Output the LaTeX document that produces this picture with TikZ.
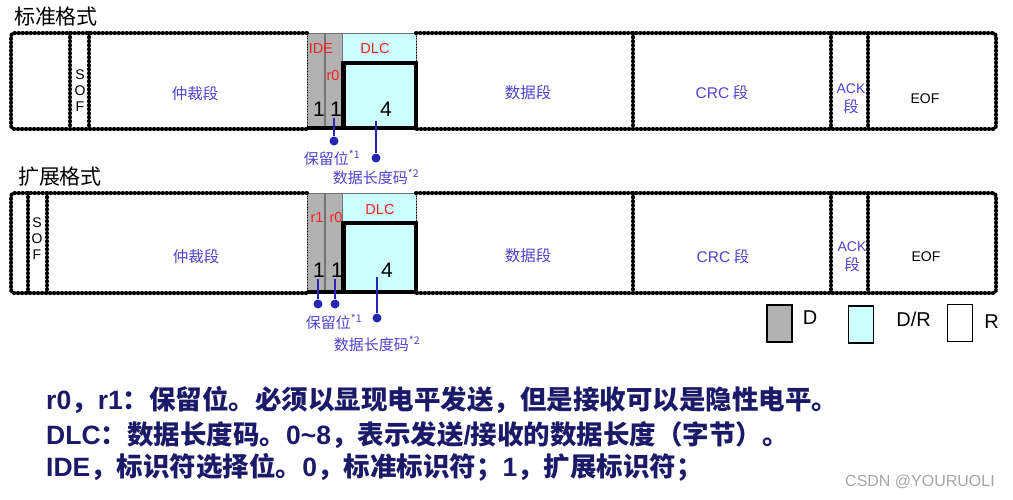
\documentclass[tikz,border=0pt]{standalone}
\usepackage{fontspec}
\setmainfont{Noto Sans CJK SC}
\newfontfamily\latinfont{Liberation Sans}
\usepackage{xcolor}
\usetikzlibrary{positioning}

\definecolor{fieldgray}{RGB}{178,178,178}
\definecolor{dlccyan}{RGB}{204,255,255}
\definecolor{labelblue}{RGB}{78,68,205}
\definecolor{notered}{RGB}{255,30,30}
\definecolor{dotblue}{RGB}{38,38,178}
\definecolor{notenavy}{RGB}{26,26,104}

\begin{document}
\begin{tikzpicture}[
    x=1pt, y=-1pt,
    every node/.style={inner sep=2pt},
    dotline/.style={
      line width=4pt, dash pattern=on 0.5pt off 3.5pt, line cap=round,
      preaction={draw, solid, line width=2pt}
    },
    thinedge/.style={line width=0.7pt, dotted},
    bitcell/.style={fill=fieldgray, draw=gray!90!black, line width=0.5pt},
    dlccell/.style={fill=dlccyan, draw=gray!90!black, line width=0.5pt},
    thickline/.style={line width=4.5pt},
    title/.style={font=\fontsize{21}{24}\selectfont},
    fieldlabel/.style={text=labelblue, font=\fontsize{15.5}{19}\selectfont, align=center},
    soflabel/.style={font=\latinfont\fontsize{14}{16}\selectfont, align=center},
    redlabel/.style={text=notered, font=\latinfont\fontsize{14.5}{16}\selectfont},
    bitnum/.style={font=\latinfont\fontsize{21}{23}\selectfont},
    eoflabel/.style={font=\latinfont\fontsize{14}{15}\selectfont},
    notedot/.style={circle, fill=dotblue, inner sep=0pt, minimum size=9pt},
    noteline/.style={dotblue, line width=1.2pt},
    notetext/.style={text=labelblue, font=\fontsize{15}{17}\selectfont},
    keybox/.style={draw, line width=1.3pt, minimum width=25pt, minimum height=37pt, inner sep=0pt},
    keytext/.style={font=\latinfont\fontsize{20}{22}\selectfont},
    remark/.style={anchor=west, text=notenavy, font=\bfseries\fontsize{26.5}{28}\selectfont},
    watermark/.style={text=gray!70, font=\latinfont\fontsize{16}{18}\selectfont}
  ]
    \useasboundingbox (0,0) rectangle (1013,499);

    % Standard format
    \node[title] (stdtitle) at (56,17) {标准格式};
    \filldraw[bitcell] (307,33) rectangle (324,129);
    \filldraw[bitcell] (325,33) rectangle (342,129);
    \filldraw[dlccell] (342,33) rectangle (416,129);
    \draw[thinedge] (307,33) -- (307,129) (416,33) -- (416,63);
    \draw[dotline, rounded corners=3pt] (307,33) -- (11,33) -- (11,129) -- (307,129)
      (416,33) -- (996,33) -- (996,129) -- (416,129);
    \draw[dotline] (70,33) -- (70,129) (89,33) -- (89,129) (633,33) -- (633,129)
      (831,33) -- (831,129) (868,33) -- (868,129);
    \draw[thickline] (343.5,63) rectangle (416,128);
    \draw[thickline] (307,128) -- (343.5,128);

    \node[soflabel] (sof1) at (80,91) {S\\O\\F};
    \node[fieldlabel] (arb1) at (195,94) {仲裁段};
    \node[redlabel] (ide1) at (321,49) {IDE};
    \node[redlabel] (rzero1) at (333,76) {r0};
    \node[redlabel] (dlc1) at (375,49) {DLC};
    \node[bitnum] (bitA1) at (319,109) {1};
    \node[bitnum] (bitB1) at (336,109) {1};
    \node[bitnum] (len1) at (386,109) {4};
    \node[fieldlabel] (data1) at (528,93) {数据段};
    \node[fieldlabel] (crc1) at (722,93) {{\latinfont CRC} 段};
    \node[fieldlabel] (ack1) at (851,99) {{\latinfont\fontsize{14}{19}\selectfont ACK}\\段};
    \node[eoflabel] (eof1) at (925,99) {EOF};

    \node[notedot] (rsvdot1) at (334,141) {};
    \node[notedot] (lendot1) at (376,158) {};
    \coordinate (lentop1) at (376,121);
    \draw[noteline] (rsvdot1 |- bitB1.south) -- (rsvdot1);
    \draw[noteline] (lentop1) -- (lendot1);
    \node[notetext] (rsvnote1) at (332,158) {保留位\textsuperscript{*1}};
    \node[notetext] (lennote1) at (376,177) {数据长度码\textsuperscript{*2}};

    % Extended format
    \node[title] (exttitle) at (60,177) {扩展格式};
    \filldraw[bitcell] (307,193) rectangle (324,293);
    \filldraw[bitcell] (325,193) rectangle (342,293);
    \filldraw[dlccell] (342,193) rectangle (416,293);
    \draw[thinedge] (307,193) -- (307,293) (416,193) -- (416,223);
    \draw[dotline, rounded corners=3pt] (307,193) -- (11,193) -- (11,293) -- (307,293)
      (416,193) -- (996,193) -- (996,293) -- (416,293);
    \draw[dotline] (28,193) -- (28,293) (47,193) -- (47,293) (633,193) -- (633,293)
      (831,193) -- (831,293) (868,193) -- (868,293);
    \draw[thickline] (343.5,223) rectangle (416,292);
    \draw[thickline] (307,292) -- (343.5,292);

    \node[soflabel] (sof2) at (37,239) {S\\O\\F};
    \node[fieldlabel] (arb2) at (196,257) {仲裁段};
    \node[redlabel] (rone2) at (317,218) {r1};
    \node[redlabel] (rzero2) at (336,218) {r0};
    \node[redlabel] (dlc2) at (380,210) {DLC};
    \node[bitnum] (bitA2) at (319,270) {1};
    \node[bitnum] (bitB2) at (337,270) {1};
    \node[bitnum] (len2) at (387,270) {4};
    \node[fieldlabel] (data2) at (528,256) {数据段};
    \node[fieldlabel] (crc2) at (723,257) {{\latinfont CRC} 段};
    \node[fieldlabel] (ack2) at (852,257) {{\latinfont\fontsize{14}{19}\selectfont ACK}\\段};
    \node[eoflabel] (eof2) at (926,257) {EOF};

    \node[notedot] (rsvdotA2) at (318,304) {};
    \node[notedot] (rsvdotB2) at (335,304) {};
    \node[notedot] (lendot2) at (377,318) {};
    \coordinate (lentop2) at (377,277);
    \draw[noteline] (rsvdotA2 |- bitA2.south) -- (rsvdotA2);
    \draw[noteline] (rsvdotB2 |- bitB2.south) -- (rsvdotB2);
    \draw[noteline] (lentop2) -- (lendot2);
    \node[notetext] (rsvnote2) at (334,322) {保留位\textsuperscript{*1}};
    \node[notetext] (lennote2) at (377,344) {数据长度码\textsuperscript{*2}};

    % Key
    \node[keybox, fill=fieldgray] (keyD) at (779.5,323.5) {};
    \node[keytext, right=8pt of keyD, yshift=6pt] (keyDtext) {D};
    \node[keybox, fill=dlccyan] (keyDR) at (861,324.5) {};
    \node[keytext, right=20pt of keyDR, yshift=5pt] (keyDRtext) {D/R};
    \node[keybox, fill=white] (keyR) at (960,323) {};
    \node[keytext, right=9pt of keyR, yshift=1pt] (keyRtext) {R};

    % Remarks
    \node[remark] (note1) at (44,400) {{\latinfont r0}，{\latinfont r1}：保留位。必须以显现电平发送，但是接收可以是隐性电平。};
    \node[remark] (note2) at (44,435) {{\latinfont DLC}：数据长度码。{\latinfont 0\textasciitilde 8}，表示发送{\latinfont /}接收的数据长度（字节）。};
    \node[remark] (note3) at (44,467) {{\latinfont IDE}，标识符选择位。{\latinfont 0}，标准标识符；{\latinfont 1}，扩展标识符；};
    \node[watermark] (wm) at (920,482) {CSDN @YOURUOLI};
  \end{tikzpicture}
\end{document}
